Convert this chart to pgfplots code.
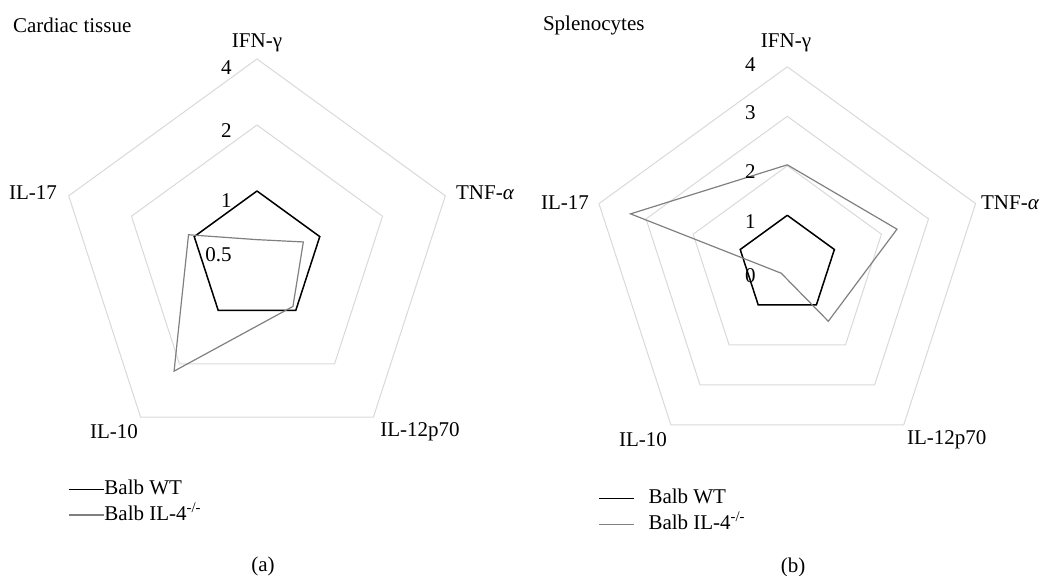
\documentclass[border=0pt]{standalone}
\usepackage{fontspec}
\setmainfont{Liberation Serif}
\usepackage{pgfplots}
\usepackage{pgfplotstable}
\pgfplotsset{compat=1.18}
\definecolor{gridgray}{RGB}{217,217,217}
\definecolor{kogray}{RGB}{128,128,128}

% angle (deg), Balb WT, Balb IL-4-/-
\pgfplotstableread{
a wt ko
90 1 0.60
18 1 0.834
-54 1 0.95
-126 1 2.2
162 1 1.065
90 1 0.60
}\cardiactab
\pgfplotstableread{
a wt ko
90 1 2.02
18 1 2.33
-54 1 1.41
-126 1 0.21
162 1 3.33
90 1 2.02
}\spleentab
\pgfplotstableread{
a r
90 1
18 1
-54 1
-126 1
162 1
90 1
}\ringtab

\pgfplotsset{
  radarlegend/.style={
    legend cell align=left,
    legend image code/.code={\draw[##1] (0pt,0pt) -- (17.5pt,0pt);},
    legend style={draw=none, fill=none, inner sep=0pt, outer sep=0pt,
      anchor=north west,
      nodes={inner sep=0pt, text height=7.8pt, text depth=2.6pt, font=\fontsize{10.5}{12.6}\selectfont}},
  }
}

\begin{document}
\begin{tikzpicture}
\path[use as bounding box] (0,0) rectangle (523pt,287.5pt);
\fontsize{10.5}{12.6}\selectfont
% ---------------- (a) Cardiac tissue (log2 scale, centre = 0.5)
\begin{axis}[at={(128.5pt,159pt)}, anchor=center, hide axis,
  x=33pt, y=33pt, xmin=-3, xmax=3, ymin=-3, ymax=3, clip=false,
  radarlegend,
  legend style={at={(axis cs:-2.864,-3.364)}, column sep=0pt, row sep=2.4pt}]
\addplot[gridgray, line width=0.5pt, forget plot] table[x expr={3*cos(\thisrow{a})}, y expr={3*sin(\thisrow{a})}]{\ringtab};
\addplot[gridgray, line width=0.5pt, forget plot] table[x expr={2*cos(\thisrow{a})}, y expr={2*sin(\thisrow{a})}]{\ringtab};
\addplot[gridgray, line width=0.5pt, forget plot] table[x expr={1*cos(\thisrow{a})}, y expr={1*sin(\thisrow{a})}]{\ringtab};
\addplot[black, line width=0.75pt, line join=miter] table[
  x expr={(ln(\thisrow{wt})/ln(2)+1)*cos(\thisrow{a})},
  y expr={(ln(\thisrow{wt})/ln(2)+1)*sin(\thisrow{a})}]{\cardiactab};
\addplot[kogray, line width=0.6pt, line join=miter] table[
  x expr={(ln(\thisrow{ko})/ln(2)+1)*cos(\thisrow{a})},
  y expr={(ln(\thisrow{ko})/ln(2)+1)*sin(\thisrow{a})}]{\cardiactab};
\legend{Balb WT, Balb IL-4\textsuperscript{-/-}}
\end{axis}
% ---------------- (b) Splenocytes (linear scale, centre = 0)
\begin{axis}[at={(393.65pt,155.1pt)}, anchor=center, hide axis,
  x=24.75pt, y=24.75pt, xmin=-4, xmax=4, ymin=-4, ymax=4, clip=false,
  radarlegend,
  legend style={at={(axis cs:-3.824,-4.507)}, column sep=7pt, row sep=2.6pt}]
\addplot[gridgray, line width=0.5pt, forget plot] table[x expr={4*cos(\thisrow{a})}, y expr={4*sin(\thisrow{a})}]{\ringtab};
\addplot[gridgray, line width=0.5pt, forget plot] table[x expr={3*cos(\thisrow{a})}, y expr={3*sin(\thisrow{a})}]{\ringtab};
\addplot[gridgray, line width=0.5pt, forget plot] table[x expr={2*cos(\thisrow{a})}, y expr={2*sin(\thisrow{a})}]{\ringtab};
\addplot[gridgray, line width=0.5pt, forget plot] table[x expr={1*cos(\thisrow{a})}, y expr={1*sin(\thisrow{a})}]{\ringtab};
\addplot[black, line width=0.75pt, line join=miter] table[
  x expr={\thisrow{wt}*cos(\thisrow{a})},
  y expr={\thisrow{wt}*sin(\thisrow{a})}]{\spleentab};
\addplot[kogray, line width=0.6pt, line join=miter] table[
  x expr={\thisrow{ko}*cos(\thisrow{a})},
  y expr={\thisrow{ko}*sin(\thisrow{a})}]{\spleentab};
\legend{Balb WT, Balb IL-4\textsuperscript{-/-}}
\end{axis}

% titles
\node[anchor=west, inner sep=0pt] at (6.3pt,275pt) {Cardiac tissue};
\node[anchor=west, inner sep=0pt] at (271.3pt,275pt) {Splenocytes};
% category labels (a)
\node at (128.5pt,266pt) {IFN-γ};
\node at (242.5pt,191pt) {TNF-{\itshape α}};
\node at (210pt,71.5pt) {IL-12p70};
\node at (57pt,71.5pt) {IL-10};
\node at (16.5pt,191pt) {IL-17};
% category labels (b)
\node at (393pt,266pt) {IFN-γ};
\node at (505pt,186pt) {TNF-{\itshape α}};
\node at (473.4pt,67.5pt) {IL-12p70};
\node at (321.5pt,67.5pt) {IL-10};
\node at (282.5pt,186pt) {IL-17};
% scale labels (a)
\node[anchor=east, inner sep=0pt] at (116pt,253.5pt) {4};
\node[anchor=east, inner sep=0pt] at (116pt,222pt) {2};
\node[anchor=east, inner sep=0pt] at (116pt,187pt) {1};
\node[anchor=east, inner sep=0pt] at (116pt,160pt) {0.5};
% scale labels (b)
\node[anchor=east, inner sep=0pt] at (378pt,255pt) {4};
\node[anchor=east, inner sep=0pt] at (378pt,231pt) {3};
\node[anchor=east, inner sep=0pt] at (378pt,201.5pt) {2};
\node[anchor=east, inner sep=0pt] at (378pt,176.5pt) {1};
\node[anchor=east, inner sep=0pt] at (378pt,149.5pt) {0};
% panel captions
\node at (131.5pt,4.5pt) {(a)};
\node at (396.5pt,4pt) {(b)};
\end{tikzpicture}
\end{document}
